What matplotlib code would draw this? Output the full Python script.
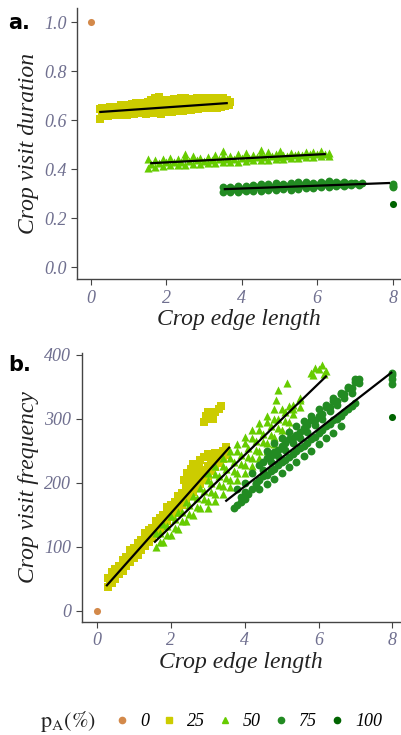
import matplotlib
matplotlib.use("Agg")
import matplotlib.pyplot as plt
from matplotlib.lines import Line2D

plt.rcParams['font.family'] = ['Liberation Serif', 'DejaVu Serif']
plt.rcParams['mathtext.fontset'] = 'stix'

# colours per pA level
col = {0: '#d3894a', 25: '#cccc00', 50: '#66cc00', 75: '#228b22', 100: '#006400'}
tick_col = '#6f6f8f'

# ---------- panel a: crop visit duration ----------
dur0_x = [0.0]
dur0_y = [1.0]

dur25_x = [0.25, 0.3, 0.4, 0.5, 0.6, 0.7, 0.8, 0.9, 1.0, 1.1, 1.2, 1.3, 1.4, 1.5, 1.6, 1.7, 1.8, 1.9,
           2.0, 2.1, 2.2, 2.3, 2.4, 2.5, 2.6, 2.7, 2.8, 2.9, 3.0, 3.1, 3.2, 3.3, 3.4, 3.5, 3.6, 3.7,
           0.25, 0.35, 0.45, 0.55, 0.65, 0.75, 0.85, 0.95, 1.05, 1.15, 1.25, 1.35, 1.45, 1.55, 1.65,
           1.75, 1.85, 1.95, 2.05, 2.15, 2.25, 2.35, 2.45, 2.55, 2.65, 2.75, 2.85, 2.95, 3.05, 3.15,
           3.25, 3.35, 3.45, 3.55, 3.65,
           0.3, 0.45, 0.6, 0.75, 0.9, 1.05, 1.2, 1.35, 1.5, 1.65, 1.8, 1.95, 2.1, 2.25, 2.4, 2.55,
           2.7, 2.85, 3.0, 3.15, 3.3, 3.45, 3.6]
dur25_y = [0.645, 0.648, 0.650, 0.652, 0.655, 0.650, 0.660, 0.658, 0.662, 0.665, 0.668, 0.660, 0.670,
           0.675, 0.680, 0.690, 0.695, 0.680, 0.678, 0.682, 0.685, 0.680, 0.688, 0.690, 0.686, 0.684,
           0.690, 0.688, 0.686, 0.690, 0.688, 0.692, 0.685, 0.688, 0.682, 0.675,
           0.605, 0.615, 0.618, 0.620, 0.622, 0.620, 0.625, 0.622, 0.628, 0.625, 0.630, 0.628, 0.625,
           0.632, 0.630, 0.628, 0.626, 0.632, 0.635, 0.634, 0.638, 0.640, 0.636, 0.642, 0.640, 0.645,
           0.644, 0.648, 0.650, 0.648, 0.652, 0.650, 0.655, 0.656, 0.660,
           0.635, 0.640, 0.638, 0.642, 0.645, 0.643, 0.648, 0.650, 0.652, 0.655, 0.660, 0.656, 0.658,
           0.660, 0.662, 0.665, 0.664, 0.666, 0.668, 0.667, 0.670, 0.672, 0.670]

dur50_x = [1.5, 1.7, 1.9, 2.1, 2.3, 2.5, 2.7, 2.9, 3.1, 3.3, 3.5, 3.7, 3.9, 4.1, 4.3, 4.5, 4.7, 4.9,
           5.1, 5.3, 5.5, 5.7, 5.9, 6.1, 6.3,
           1.5, 1.7, 1.9, 2.1, 2.3, 2.5, 2.7, 2.9, 3.1, 3.3, 3.5, 3.7, 3.9, 4.1, 4.3, 4.5, 4.7, 4.9,
           5.1, 5.3, 5.5, 5.7, 5.9, 6.1, 6.3,
           1.6, 1.8, 2.0, 2.2, 2.4, 2.6, 2.8, 3.0, 3.2, 3.4, 3.6, 3.8, 4.0, 4.2, 4.4, 4.6, 4.8, 5.0,
           5.2, 5.4, 5.6, 5.8, 6.0, 6.2,
           3.5, 4.5, 5.0, 2.5]
dur50_y = [0.440, 0.438, 0.442, 0.445, 0.440, 0.448, 0.452, 0.445, 0.450, 0.458, 0.455, 0.452, 0.460,
           0.465, 0.458, 0.462, 0.468, 0.460, 0.458, 0.465, 0.462, 0.470, 0.468, 0.472, 0.465,
           0.405, 0.410, 0.412, 0.415, 0.418, 0.416, 0.420, 0.422, 0.425, 0.424, 0.428, 0.430, 0.428,
           0.432, 0.435, 0.438, 0.436, 0.440, 0.442, 0.445, 0.444, 0.448, 0.450, 0.452, 0.455,
           0.422, 0.425, 0.428, 0.430, 0.428, 0.432, 0.436, 0.434, 0.438, 0.440, 0.442, 0.440, 0.445,
           0.446, 0.448, 0.450, 0.452, 0.450, 0.455, 0.456, 0.458, 0.460, 0.462, 0.460,
           0.475, 0.478, 0.475, 0.462]

dur75_x = [3.5, 3.7, 3.9, 4.1, 4.3, 4.5, 4.7, 4.9, 5.1, 5.3, 5.5, 5.7, 5.9, 6.1, 6.3, 6.5, 6.7, 6.9, 7.2,
           3.5, 3.7, 3.9, 4.1, 4.3, 4.5, 4.7, 4.9, 5.1, 5.3, 5.5, 5.7, 5.9, 6.1, 6.3, 6.5, 6.7, 6.9, 7.1,
           3.6, 3.8, 4.0, 4.2, 4.4, 4.6, 4.8, 5.0, 5.2, 5.4, 5.6, 5.8, 6.0, 6.2, 6.4, 6.6, 6.8, 7.0,
           8.0, 8.0, 8.0]
dur75_y = [0.325, 0.328, 0.330, 0.332, 0.335, 0.338, 0.340, 0.342, 0.340, 0.345, 0.346, 0.348, 0.345,
           0.348, 0.350, 0.346, 0.348, 0.345, 0.342,
           0.308, 0.305, 0.306, 0.310, 0.312, 0.310, 0.314, 0.315, 0.318, 0.316, 0.320, 0.322, 0.324,
           0.325, 0.328, 0.330, 0.332, 0.334, 0.336,
           0.318, 0.320, 0.320, 0.322, 0.325, 0.326, 0.328, 0.330, 0.330, 0.332, 0.334, 0.335, 0.336,
           0.338, 0.338, 0.340, 0.340, 0.342,
           0.340, 0.330, 0.325]

dur100_x = [8.0]
dur100_y = [0.257]

# fitted lines (start, end) per level
dur_fit_x = {25: [0.25, 3.6], 50: [1.6, 6.2], 75: [3.55, 7.9]}
dur_fit_y = {25: [0.633, 0.669], 50: [0.424, 0.461], 75: [0.318, 0.343]}

# ---------- panel b: crop visit frequency ----------
freq0_x = [0.0]
freq0_y = [0.0]

freq25_x = [0.3, 0.4, 0.5, 0.6, 0.7, 0.8, 0.9, 1.0, 1.1, 1.2, 1.3, 1.4, 1.5, 1.6, 1.7, 1.8, 1.9, 2.0,
            2.1, 2.2, 2.3, 2.4, 2.5, 2.6, 2.7, 2.8, 2.9, 3.0, 3.1, 3.2, 3.3, 3.4, 3.5,
            0.3, 0.4, 0.5, 0.6, 0.7, 0.8, 0.9, 1.0, 1.1, 1.2, 1.3, 1.4, 1.5, 1.6, 1.7, 1.8, 1.9, 2.0,
            2.1, 2.2, 2.3, 2.4, 2.5, 2.6, 2.7, 2.8, 2.9, 3.0, 3.1, 3.2, 3.3, 3.4, 3.5,
            0.35, 0.45, 0.55, 0.65, 0.75, 0.85, 0.95, 1.05, 1.15, 1.25, 1.35, 1.45, 1.55, 1.65, 1.75,
            1.85, 1.95, 2.05, 2.15, 2.25, 2.35, 2.45, 2.55, 2.65, 2.75, 2.85, 2.95, 3.05, 3.15, 3.25,
            3.35, 3.45,
            2.35, 2.45, 2.55, 2.6, 2.7, 2.5, 2.4, 2.65, 2.75, 2.8, 2.9, 3.0, 3.1, 3.2,
            2.9, 3.0, 3.1, 3.2, 3.3, 3.35, 3.0, 3.15, 2.95]
freq25_y = [52, 60, 66, 70, 80, 84, 95, 98, 106, 110, 122, 126, 130, 140, 145, 150, 162, 166,
            170, 180, 184, 190, 196, 200, 210, 214, 220, 226, 232, 240, 244, 250, 256,
            38, 44, 50, 57, 63, 70, 76, 82, 88, 95, 101, 108, 114, 120, 127, 133, 140, 146,
            153, 160, 166, 172, 179, 186, 192, 198, 205, 211, 218, 224, 231, 237, 243,
            48, 54, 62, 66, 74, 79, 88, 92, 99, 104, 112, 118, 125, 131, 137,
            144, 150, 156, 163, 170, 175, 181, 188, 195, 200, 208, 214, 220, 226, 234,
            240, 246,
            205, 215, 222, 230, 228, 210, 200, 218, 225, 235, 240, 245, 238, 247,
            295, 300, 305, 310, 315, 320, 310, 300, 305]

freq50_x = [1.6, 1.8, 2.0, 2.2, 2.4, 2.6, 2.8, 3.0, 3.2, 3.4, 3.6, 3.8, 4.0, 4.2, 4.4, 4.6, 4.8, 5.0, 5.2,
            1.6, 1.8, 2.0, 2.2, 2.4, 2.6, 2.8, 3.0, 3.2, 3.4, 3.6, 3.8, 4.0, 4.2, 4.4, 4.6, 4.8, 5.0, 5.2,
            1.7, 1.9, 2.1, 2.3, 2.5, 2.7, 2.9, 3.1, 3.3, 3.5, 3.7, 3.9, 4.1, 4.3, 4.5, 4.7, 4.9, 5.1,
            5.3, 5.5,
            1.7, 1.9, 2.1, 2.3, 2.5, 2.7, 2.9, 3.1, 3.3, 3.5, 3.7, 3.9, 4.1, 4.3, 4.5, 4.7, 4.9, 5.1,
            5.3, 5.5,
            3.0, 3.2, 3.4, 3.6, 3.8, 4.0, 4.2, 4.4, 4.6, 4.8,
            3.0, 3.2, 3.4, 3.6, 3.8, 4.0, 4.2, 4.4, 4.6, 4.8, 5.0, 5.2,
            4.85, 4.9, 5.15, 5.8, 5.9, 6.0, 6.1, 6.2, 5.85, 6.15, 5.5, 5.3]
freq50_y = [122, 135, 148, 155, 170, 180, 192, 205, 214, 226, 238, 250, 262, 270, 282, 295, 300, 315, 320,
            100, 108, 118, 128, 140, 150, 160, 172, 182, 195, 205, 215, 228, 238, 250, 262, 272, 282, 295,
            121, 132, 143, 155, 166, 177, 188, 199, 210, 221, 233, 244, 255, 266, 277, 288, 300, 311,
            322, 333,
            107, 118, 129, 141, 152, 163, 174, 185, 196, 207, 219, 230, 241, 252, 263, 274, 286, 297,
            308, 319,
            216, 227, 238, 249, 260, 271, 282, 294, 305, 316,
            160, 171, 182, 193, 204, 215, 226, 238, 249, 260, 271, 282,
            330, 345, 356, 372, 380, 378, 384, 375, 368, 370, 330, 315]

freq75_x = [3.8, 4.0, 4.2, 4.4, 4.6, 4.8, 5.0, 5.2, 5.4, 5.6, 5.8, 6.0, 6.2, 6.4, 6.6, 6.8, 7.0, 7.1,
            3.7, 3.8, 4.0, 4.2, 4.4, 4.6, 4.8, 5.0, 5.2, 5.4, 5.6, 5.8, 6.0, 6.2, 6.4, 6.6, 6.8, 7.0,
            4.5, 4.7, 4.9, 5.1, 5.3, 5.5, 5.7, 5.9, 6.1, 6.3, 6.5, 6.7, 6.9,
            4.5, 4.7, 4.9, 5.1, 5.3, 5.5, 5.7, 5.9, 6.1, 6.3, 6.5, 6.7, 6.9, 7.1,
            3.9, 4.1, 4.3, 4.5, 4.7, 4.9, 5.1, 5.3, 5.5, 5.7, 5.9, 6.1, 6.3, 6.5, 6.7, 6.9,
            4.6, 4.8, 5.0, 5.2, 5.4, 5.6, 5.8, 6.0, 6.2, 6.4, 6.6, 6.8, 7.0,
            4.4, 4.6, 4.8, 5.0, 5.2, 5.4, 5.6, 5.8, 6.0, 6.2, 6.4, 6.6,
            4.0, 3.9, 4.3, 8.0, 8.0, 8.0, 8.0]
freq75_y = [190, 200, 215, 228, 238, 248, 258, 268, 275, 285, 298, 305, 318, 328, 338, 348, 358, 362,
            160, 165, 175, 190, 205, 212, 222, 232, 240, 250, 258, 268, 278, 288, 298, 305, 315, 325,
            220, 232, 242, 252, 262, 270, 280, 290, 300, 312, 322, 332, 340,
            232, 242, 252, 262, 270, 280, 290, 298, 308, 318, 328, 338, 348, 356,
            170, 182, 198, 210, 218, 228, 236, 245, 254, 262, 272, 282, 292, 300, 310, 320,
            250, 262, 270, 280, 288, 296, 305, 315, 322, 332, 340, 350, 362,
            190, 198, 206, 215, 224, 232, 242, 250, 260, 270, 278, 288,
            185, 178, 200, 355, 362, 368, 372]

freq100_x = [8.0]
freq100_y = [303]

freq_fit_x = {25: [0.27, 3.58], 50: [1.57, 6.2], 75: [3.5, 7.97]}
freq_fit_y = {25: [40, 255], 50: [108, 366], 75: [172, 372]}

levels = [0, 25, 50, 75, 100]
markers = {0: 'o', 25: 's', 50: '^', 75: 'o', 100: 'o'}
sizes = {0: 26, 25: 34, 50: 34, 75: 32, 100: 26}

dur_data = {0: (dur0_x, dur0_y), 25: (dur25_x, dur25_y), 50: (dur50_x, dur50_y),
            75: (dur75_x, dur75_y), 100: (dur100_x, dur100_y)}
freq_data = {0: (freq0_x, freq0_y), 25: (freq25_x, freq25_y), 50: (freq50_x, freq50_y),
             75: (freq75_x, freq75_y), 100: (freq100_x, freq100_y)}

fig = plt.figure(figsize=(4.01, 7.35), dpi=100)
ax_a = fig.add_axes([0.192, 0.620, 0.806, 0.369])
ax_b = fig.add_axes([0.204, 0.154, 0.793, 0.366])


def draw_panel(ax, data, fit_x, fit_y):
    for lv in levels:
        x, y = data[lv]
        ax.scatter(x, y, s=sizes[lv], marker=markers[lv], color=col[lv], linewidths=0, zorder=2)
    for lv in fit_x:
        ax.plot(fit_x[lv], fit_y[lv], color='black', lw=1.6, zorder=3)
    for side in ['top', 'right']:
        ax.spines[side].set_visible(False)
    for side in ['left', 'bottom']:
        ax.spines[side].set_color('#444444')
        ax.spines[side].set_linewidth(1.0)
    ax.tick_params(colors='#444444', labelcolor=tick_col, length=4, width=0.8, labelsize=13)
    ax.set_xticks([0, 2, 4, 6, 8])
    ax.set_xlabel('Crop edge length', fontsize=17, style='italic', color='#222222', labelpad=2)


draw_panel(ax_a, dur_data, dur_fit_x, dur_fit_y)
ax_a.set_xlim(-0.37, 8.2)
ax_a.set_ylim(-0.05, 1.057)
ax_a.set_yticks([0.0, 0.2, 0.4, 0.6, 0.8, 1.0])
ax_a.set_yticklabels(['0.0', '0.2', '0.4', '0.6', '0.8', '1.0'])
ax_a.set_ylabel('Crop visit duration', fontsize=17, style='italic', color='#222222', labelpad=4)

draw_panel(ax_b, freq_data, freq_fit_x, freq_fit_y)
ax_b.set_xlim(-0.41, 8.2)
ax_b.set_ylim(-17, 403)
ax_b.set_yticks([0, 100, 200, 300, 400])
ax_b.set_ylabel('Crop visit frequency', fontsize=17, style='italic', color='#222222', labelpad=4)

for ax in [ax_a, ax_b]:
    for lab in ax.get_xticklabels() + ax.get_yticklabels():
        lab.set_fontstyle('italic')

fig.text(0.02, 0.969, 'a.', fontsize=15, fontweight='bold', family='DejaVu Sans', va='center')
fig.text(0.02, 0.503, 'b.', fontsize=15, fontweight='bold', family='DejaVu Sans', va='center')

# legend
handles = [Line2D([], [], linestyle='none', marker=markers[lv], color=col[lv], markersize=4.5)
           for lv in levels]
fig.text(0.10, 13 / 735, r'$\mathrm{p_A(\%)}$', fontsize=16, va='center', color='#222222')
leg = fig.legend(handles, [str(lv) for lv in levels], loc='center left',
                 bbox_to_anchor=(115 / 401, 13 / 735), borderpad=0, borderaxespad=0,
                 ncol=5, frameon=False, handletextpad=0.6, columnspacing=0.7, handlelength=0.8,
                 prop={'style': 'italic', 'size': 13})

fig.savefig('out.png', dpi=100)
